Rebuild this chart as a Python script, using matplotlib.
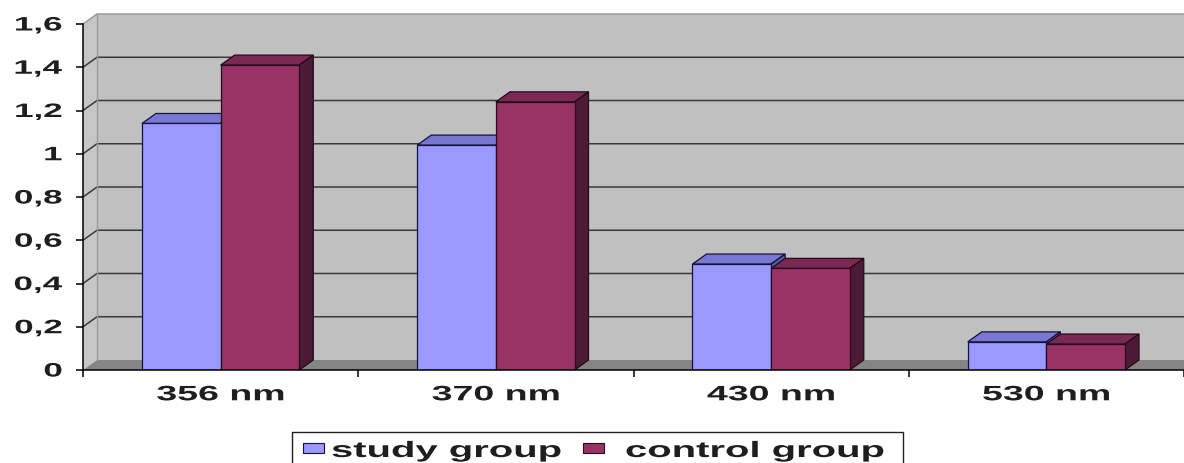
import matplotlib
matplotlib.use("Agg")
import matplotlib.pyplot as plt
import numpy as np
from matplotlib import patheffects
from matplotlib.transforms import Affine2D
from matplotlib.patches import Polygon, Rectangle
from matplotlib.lines import Line2D

# ---- data -------------------------------------------------------------
categories = ["356 nm", "370 nm", "430 nm", "530 nm"]
study_group = [1.14, 1.04, 0.49, 0.13]
control_group = [1.41, 1.24, 0.47, 0.12]
series_names = ["study group", "control group"]
y_ticks = [0, 0.2, 0.4, 0.6, 0.8, 1.0, 1.2, 1.4, 1.6]
y_tick_labels = ["0", "0,2", "0,4", "0,6", "0,8", "1", "1,2", "1,4", "1,6"]

# ---- style ------------------------------------------------------------
W, H, DPI = 1184, 463, 100
FONT = "Liberation Sans"
TEXT_COLOR = "#1e1e1e"
WALL = "#c0c0c0"
SIDE_WALL = "#c6c6c6"
FLOOR = "#858585"
GRID = "#3a3a3a"
STRETCH = 1.8          # wide, Excel-like lettering
DEPTH_PX = (14, 10)    # oblique depth of walls and columns, in pixels

# front, top, side, edge colours for each series
SERIES_COLORS = [
    ("#9999ff", "#7878d2", "#5a5a9e", "#12123c"),
    ("#993366", "#7a2952", "#4d1a33", "#240a1c"),
]


class HStretch(patheffects.AbstractPathEffect):
    """Draw text glyphs stretched horizontally about an anchor."""

    def __init__(self, sx, anchor="center"):
        super().__init__()
        self.sx = sx
        self.anchor = anchor

    def draw_path(self, renderer, gc, tpath, affine, rgbFace=None):
        ext = tpath.get_extents()
        if self.anchor == "left":
            x0 = 0.0
        elif self.anchor == "right":
            x0 = ext.x1
        else:
            x0 = 0.5 * (ext.x0 + ext.x1)
        stretch = Affine2D().translate(-x0, 0).scale(self.sx, 1).translate(x0, 0)
        renderer.draw_path(gc, tpath, stretch + affine, rgbFace)


fig = plt.figure(figsize=(W / DPI, H / DPI), dpi=DPI)
fig.patch.set_facecolor("white")


def fx(px):
    return px / W


def fy(py):
    return 1 - py / H


n = len(categories)
ymax = y_ticks[-1]

ax = fig.add_axes([fx(83), fy(370), fx(W - 83), (370 - 24) / H])
ax.set_xlim(0, n)
ax.set_ylim(0, ymax)
ax.patch.set_visible(False)

# depth offset in data units
o = ax.transData.transform((0, 0))
u = ax.transData.transform((1, 1))
ddx = DEPTH_PX[0] / (u[0] - o[0])
ddy = DEPTH_PX[1] / (u[1] - o[1])

# ---- walls and floor --------------------------------------------------
ax.add_patch(Polygon([(ddx, ddy), (n + ddx, ddy), (n + ddx, ymax + ddy), (ddx, ymax + ddy)],
                     closed=True, fc=WALL, ec="none", zorder=0, clip_on=False))
ax.add_patch(Polygon([(0, 0), (0, ymax), (ddx, ymax + ddy), (ddx, ddy)],
                     closed=True, fc=SIDE_WALL, ec="none", zorder=0, clip_on=False))
ax.add_patch(Polygon([(0, 0), (n, 0), (n + ddx, ddy), (ddx, ddy)],
                     closed=True, fc=FLOOR, ec="none", zorder=0.5, clip_on=False))
for v in y_ticks[1:]:
    c = GRID if v < ymax else "#9c9c9c"
    ax.add_line(Line2D([0, ddx, n + ddx], [v, v + ddy, v + ddy], color=c, lw=1.1,
                       zorder=1, clip_on=False))
ax.add_line(Line2D([ddx, ddx], [ddy, ymax + ddy], color="#9a9a9a", lw=1.0,
                   zorder=1, clip_on=False))

# ---- columns ----------------------------------------------------------
width = 1 / 3.5          # two columns + 150 % gap per category
centers = np.arange(n) + 0.5
for s, (vals, name) in enumerate(zip([study_group, control_group], series_names)):
    front, top, side, edge = SERIES_COLORS[s]
    offs = (s - 0.5) * width
    bars = ax.bar(centers + offs, vals, width, color=front, edgecolor=edge,
                  linewidth=0.9, label=name, zorder=3 + 2 * s)
    for r in bars:
        x0, w, h = r.get_x(), r.get_width(), r.get_height()
        z = r.get_zorder() - 0.5
        ax.add_patch(Polygon([(x0, h), (x0 + w, h), (x0 + w + ddx, h + ddy), (x0 + ddx, h + ddy)],
                             closed=True, fc=top, ec=edge, lw=0.9, zorder=z, clip_on=False))
        ax.add_patch(Polygon([(x0 + w, 0), (x0 + w, h), (x0 + w + ddx, h + ddy), (x0 + w + ddx, ddy)],
                             closed=True, fc=side, ec=edge, lw=0.9, zorder=z, clip_on=False))

# ---- axes -------------------------------------------------------------
for sp in ("top", "right"):
    ax.spines[sp].set_visible(False)
for sp in ("left", "bottom"):
    ax.spines[sp].set_color("black")
    ax.spines[sp].set_linewidth(1.1)
    ax.spines[sp].set_zorder(6)

ax.set_yticks(y_ticks, y_tick_labels)
ax.set_xticks(centers, categories)
ax.set_xticks(np.arange(n + 1), minor=True)
ax.tick_params(axis="y", length=5, width=1.1, direction="out", pad=10, color="black")
ax.tick_params(axis="x", which="major", length=0, pad=11)
ax.tick_params(axis="x", which="minor", length=5, width=1.1, direction="out", color="black")

for lab in ax.get_yticklabels():
    lab.set_fontfamily(FONT)
    lab.set_fontweight("bold")
    lab.set_fontsize(14)
    lab.set_color(TEXT_COLOR)
    lab.set_path_effects([HStretch(STRETCH, "right")])
for lab in ax.get_xticklabels():
    lab.set_fontfamily(FONT)
    lab.set_fontweight("bold")
    lab.set_fontsize(15)
    lab.set_color(TEXT_COLOR)
    lab.set_path_effects([HStretch(STRETCH, "center")])

# ---- legend -----------------------------------------------------------
fig.add_artist(Rectangle((fx(292), fy(500)), fx(903 - 292), (500 - 432) / H,
                         transform=fig.transFigure, fill=False, ec="#222222", lw=1.0))
legend_items = [(303, 331), (583, 625)]
for (sq_x, tx), name, cols in zip(legend_items, series_names, SERIES_COLORS):
    fig.add_artist(Rectangle((fx(sq_x), fy(453)), fx(21), 10 / H, transform=fig.transFigure,
                             fc=cols[0], ec=cols[3], lw=0.8))
    fig.text(fx(tx), fy(457), name, fontfamily=FONT, fontweight="bold", fontsize=16,
             color=TEXT_COLOR, ha="left", va="baseline",
             path_effects=[HStretch(STRETCH, "left")])

fig.savefig("out.png", dpi=DPI)
